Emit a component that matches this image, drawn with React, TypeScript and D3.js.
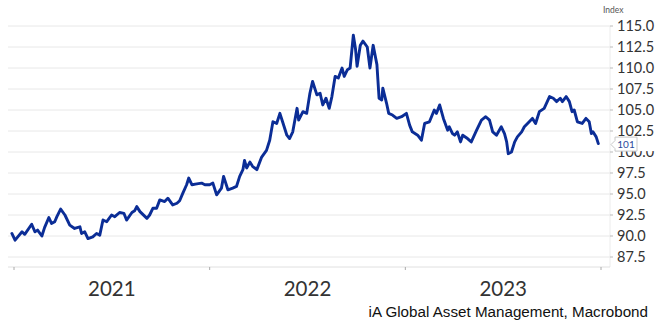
import React from "react";
import * as d3 from "d3";

const dates: string[] = [
  "2020-12-28","2021-01-03","2021-01-08","2021-01-16","2021-01-21","2021-02-03","2021-02-09","2021-02-14","2021-02-22","2021-02-27",
  "2021-03-07","2021-03-12","2021-03-18","2021-03-22","2021-03-29","2021-04-06","2021-04-15","2021-04-24","2021-05-04","2021-05-07",
  "2021-05-13","2021-05-19","2021-05-28","2021-06-04","2021-06-10","2021-06-16","2021-06-23","2021-07-02","2021-07-08","2021-07-17",
  "2021-07-25","2021-07-30","2021-08-09","2021-08-14","2021-08-18","2021-08-24","2021-09-06","2021-09-11","2021-09-17","2021-09-24",
  "2021-09-30","2021-10-09","2021-10-15","2021-10-24","2021-11-01","2021-11-06","2021-11-12","2021-11-19","2021-11-23","2021-11-29",
  "2021-12-08","2021-12-17","2021-12-23","2022-01-01","2022-01-07","2022-01-14","2022-01-23","2022-01-27","2022-02-04","2022-02-13",
  "2022-02-20","2022-02-26","2022-03-04","2022-03-07","2022-03-11","2022-03-17","2022-03-22","2022-03-30","2022-04-08","2022-04-17",
  "2022-04-23","2022-04-29","2022-05-06","2022-05-12","2022-05-17","2022-05-25","2022-05-30","2022-06-05","2022-06-13","2022-06-16",
  "2022-06-24","2022-07-01","2022-07-07","2022-07-12","2022-07-20","2022-07-26","2022-07-31","2022-08-06","2022-08-12","2022-08-17",
  "2022-08-23","2022-08-29","2022-09-05","2022-09-09","2022-09-15","2022-09-20","2022-09-26","2022-09-30","2022-10-03","2022-10-09",
  "2022-10-14","2022-10-22","2022-10-27","2022-11-02","2022-11-09","2022-11-13","2022-11-18","2022-11-20","2022-11-27","2022-12-01",
  "2022-12-08","2022-12-16","2022-12-25","2023-01-03","2023-01-09","2023-01-14","2023-01-24","2023-01-31","2023-02-06","2023-02-15",
  "2023-02-24","2023-02-28","2023-03-06","2023-03-13","2023-03-21","2023-03-24","2023-03-30","2023-04-03","2023-04-08","2023-04-14",
  "2023-04-18","2023-04-27","2023-05-04","2023-05-14","2023-05-23","2023-05-31","2023-06-07","2023-06-13","2023-06-20","2023-06-29",
  "2023-07-05","2023-07-09","2023-07-12","2023-07-18","2023-07-24","2023-07-29","2023-08-06","2023-08-11","2023-08-17","2023-08-26",
  "2023-09-01","2023-09-08","2023-09-17","2023-09-27","2023-10-04","2023-10-10","2023-10-17","2023-10-21","2023-10-28","2023-11-03",
  "2023-11-08","2023-11-12","2023-11-18","2023-11-27","2023-12-04","2023-12-10","2023-12-14","2023-12-17","2023-12-23","2023-12-27",
];

const values: number[] = [
  90.3,89.5,89.9,90.5,90.2,91.4,90.5,90.7,90.0,91.0,
  92.2,91.5,91.7,92.3,93.2,92.5,91.3,90.9,91.1,90.3,
  90.5,89.7,89.9,90.3,90.1,91.9,91.7,92.5,92.3,92.8,
  92.7,91.9,92.8,93.0,93.5,92.9,92.1,92.5,93.3,93.3,
  94.3,94.1,94.5,93.7,93.9,94.2,95.1,96.1,96.9,96.1,
  96.2,96.3,96.1,96.1,96.3,94.9,95.7,97.1,95.5,95.7,
  95.9,97.1,97.9,99.0,98.1,98.8,98.3,97.9,99.4,100.2,
  101.4,103.6,103.4,104.6,103.6,102.0,101.6,102.4,105.2,103.8,
  104.8,104.6,107.0,108.4,106.8,107.0,105.6,106.4,105.2,106.6,
  109.0,108.8,110.0,109.0,109.8,110.0,113.9,112.3,110.2,112.7,
  113.2,112.5,110.0,112.7,110.4,106.4,106.2,107.6,105.8,104.6,
  104.4,104.0,104.2,104.6,103.2,102.4,102.0,101.4,103.4,103.6,
  105.0,104.6,105.6,104.0,102.6,103.0,102.2,102.0,102.4,101.2,
  102.0,101.6,101.2,102.6,103.8,104.2,103.8,102.4,102.0,103.0,
  102.2,101.2,99.8,100.0,101.2,101.8,102.4,103.0,103.4,104.0,
  103.4,104.8,105.2,106.6,106.4,106.0,106.4,106.0,106.6,106.0,
  104.8,105.0,103.6,103.4,104.0,103.6,102.2,102.4,101.8,101.0,
];

const yTicks: number[] = [87.5, 90, 92.5, 95, 97.5, 100, 102.5, 105, 107.5, 110, 112.5, 115];
const yearTicks: string[] = ["2021-01-01", "2022-01-01", "2023-01-01", "2024-01-01"];
const yearLabels: string[] = ["2021", "2022", "2023"];
const lastLabel = "101";
const unitLabel = "Index";
const sourceLabel = "iA Global Asset Management, Macrobond";

const W = 655;
const H = 324;
const plotLeft = 8;
const plotRight = 610;
const axisY = 267;

export default function App() {
  const parse = d3.timeParse("%Y-%m-%d");
  const data = dates.map((d, i) => ({ date: parse(d) as Date, value: values[i] }));

  const x = d3
    .scaleTime()
    .domain([parse("2021-01-01") as Date, parse("2024-01-01") as Date])
    .range([14, 601]);
  const y = d3.scaleLinear().domain([87.5, 115]).range([257, 26]);

  const line = d3
    .line<{ date: Date; value: number }>()
    .x((d) => x(d.date))
    .y((d) => y(d.value))
    .curve(d3.curveLinear);

  const yearDates = yearTicks.map((d) => parse(d) as Date);
  const last = data[data.length - 1];
  const calloutY = y(last.value) + 1;

  return (
    <svg
      width={W}
      height={H}
      style={{ position: "absolute", left: 0, top: 0, background: "#fff" }}
    >
      <rect x={0} y={0} width={W} height={H} fill="#fff" />
      {yTicks.map((t) => (
        <line
          key={"g" + t}
          x1={plotLeft}
          x2={plotRight}
          y1={y(t)}
          y2={y(t)}
          stroke="#e8e8e8"
          strokeWidth={1}
        />
      ))}
      <line x1={plotRight} x2={plotRight} y1={y(115)} y2={axisY} stroke="#ececec" strokeWidth={1} />
      <line x1={plotLeft} x2={plotRight} y1={axisY} y2={axisY} stroke="#e0e0e0" strokeWidth={1} />
      {yearDates.map((d, i) => (
        <line key={"t" + i} x1={x(d)} x2={x(d)} y1={axisY} y2={axisY + 3} stroke="#aaa" strokeWidth={1} />
      ))}
      {yTicks.map((t) => (
        <line key={"yt" + t} x1={plotRight} x2={plotRight + 3} y1={y(t)} y2={y(t)} stroke="#bbb" strokeWidth={1} />
      ))}
      {yTicks.map((t) => (
        <text
          key={"yl" + t}
          x={617}
          y={y(t)}
          dy="0.36em"
          fontFamily="Lato, 'Open Sans', sans-serif"
          fontSize={14.5}
          fill="#333"
        >
          {d3.format(".1f")(t)}
        </text>
      ))}
      {yearLabels.map((lab, i) => {
        const cx = (x(yearDates[i]) + x(yearDates[i + 1])) / 2;
        return (
          <text
            key={"yr" + lab}
            x={cx}
            y={296}
            textAnchor="middle"
            fontFamily="Lato, 'Open Sans', sans-serif"
            fontSize={20.5}
            fill="#333"
          >
            {lab}
          </text>
        );
      })}
      <path
        d={line(data) || ""}
        fill="none"
        stroke="#0b2d96"
        strokeWidth={2.9}
        strokeLinejoin="round"
        strokeLinecap="round"
      />
      <text x={603} y={13} fontFamily="Lato, 'Open Sans', sans-serif" fontSize={8.5} fill="#555">
        {unitLabel}
      </text>
      <rect x={614} y={calloutY - 7.5} width={41} height={14} fill="#fff" />
      <path
        d={`M ${611} ${calloutY} L ${615} ${calloutY - 4} L ${615} ${calloutY - 7.5} L ${637} ${calloutY - 7.5} L ${637} ${calloutY + 6.5} L ${615} ${calloutY + 6.5} L ${615} ${calloutY + 4} Z`}
        fill="#fff"
        stroke="#c8c8c8"
        strokeWidth={1}
      />
      <text
        x={626}
        y={calloutY}
        dy="0.36em"
        textAnchor="middle"
        fontFamily="Lato, 'Open Sans', sans-serif"
        fontSize={10}
        fill="#2b4a9c"
      >
        {lastLabel}
      </text>
      <text
        x={648}
        y={317}
        textAnchor="end"
        fontFamily="'Liberation Sans', Arial, sans-serif"
        fontSize={15.2}
        fill="#111"
      >
        {sourceLabel}
      </text>
    </svg>
  );
}
